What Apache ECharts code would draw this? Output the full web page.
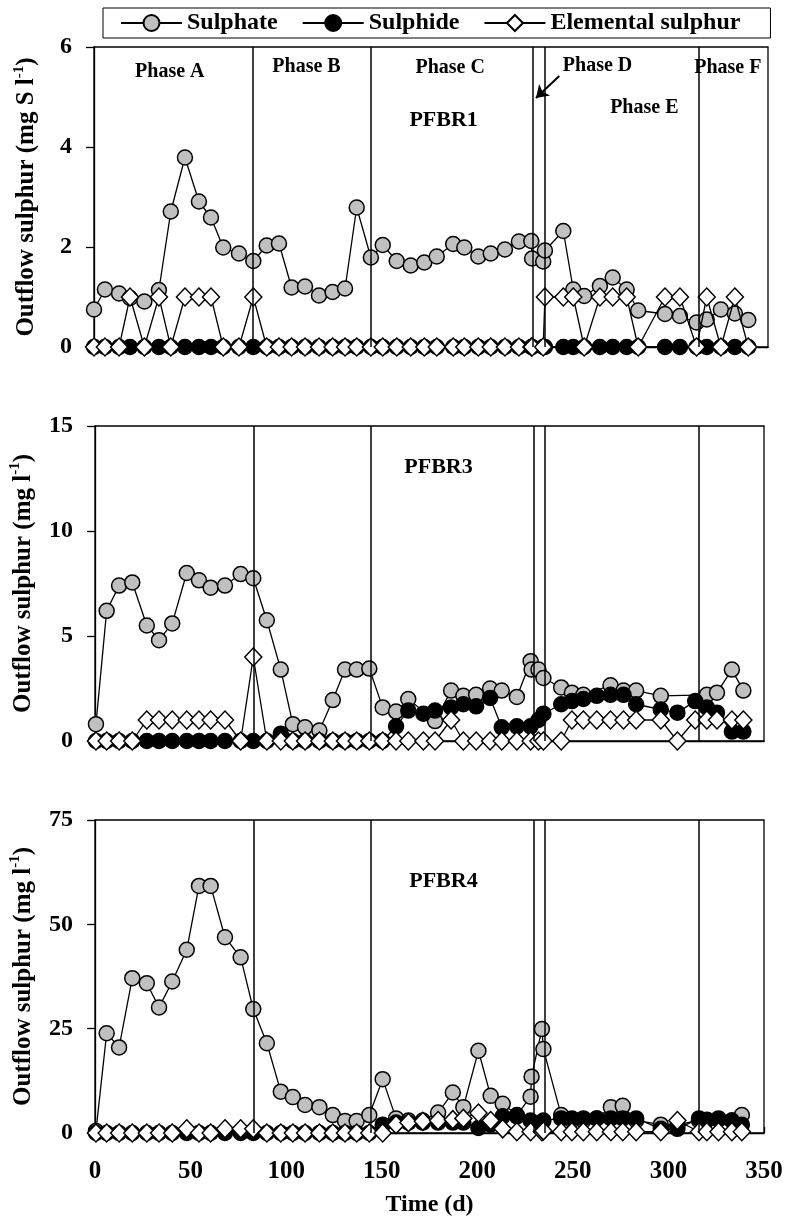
<!DOCTYPE html>
<html><head><meta charset="utf-8">
<script src="https://cdn.jsdelivr.net/npm/echarts/dist/echarts.min.js"></script>
<style>html,body{margin:0;padding:0;background:#fff}#c{width:787px;height:1220px}</style>
</head><body><div id="c"></div>
<script>
// ---------- DATA ----------
const seriesNames = ['Sulphate', 'Sulphide', 'Elemental sulphur'];
const phaseDays = [83, 144.5, 229.3, 235.5, 316];

// PFBR1
const days1 = [0,5.7,13.1,18.8,26.3,33.9,40.1,47.5,54.8,61.1, 67.5,75.7,83.2,90.2,96.6,103.2,110.2,117.5,124.6,131.1, 137.2,144.6,150.8,158.1,165.4,172.5,179,187.6,193.4,200.7, 207.2,214.6,221.9,228.4,228.8,234.6,235.5,245.1,250.3,256, 264.2,270.9,278.2,284.2,298.2,306,314.7,320,327.4,334.7, 341.7];
const sulphate1 = [0.75,1.15,1.07,0.98,0.91,1.14,2.71,3.79,2.91,2.59, 1.99,1.87,1.72,2.03,2.07,1.19,1.21,1.03,1.10,1.17, 2.79,1.79,2.04,1.72,1.63,1.69,1.81,2.06,1.99,1.81, 1.87,1.95,2.11,2.12,1.77,1.71,1.93,2.32,1.15,1.02, 1.22,1.39,1.15,0.73,0.66,0.62,0.49,0.55,0.75,0.67, 0.54];
const sulphide1 = [0,0,0,0,0,0,0,0,0,0, 0,0,0,0,0,0,0,0,0,0, 0,0,0,0,0,0,0,0,0,0, 0,0,0,0,0,0,0,0,0,0, 0,0,0,0,0,0,0,0,0,0, 0];
const elemental1 = [0,0,0,1,0,1,0,1,1,1, 0,0,1,0,0,0,0,0,0,0, 0,0,0,0,0,0,0,0,0,0, 0,0,0,0,0,0,1,1,1,0, 1,1,1,0,1,1,0,1,0,1, 0];

// PFBR3
const days2 = [0.5,6.1,12.6,19.5,27.1,33.5,40.4,48,54.4,60.5, 68,76.2,82.8,89.9,97.2,103.5,109.9,117.4,124.4,130.8, 136.9,143.5,150.5,157.5,163.9,171.8,177.9,186.3,192.7,199.4, 206.7,212.8,220.7,227.9,228.4,232,234.6,243.9,249.5,255.5, 262.5,269.7,276.5,283.1,296,304.7,314,320.1,325.4,333.2, 339.2];
const sulphate2 = [0.8,6.2,7.4,7.55,5.5,4.8,5.6,8.0,7.65,7.3, 7.4,7.95,7.75,5.75,3.4,0.8,0.65,0.5,1.95,3.4, 3.4,3.45,1.6,1.4,2.0,null,0.95,2.4,2.15,2.2, 2.5,2.4,2.1,3.8,3.4,3.4,3.0,2.55,2.3,2.2, null,2.65,2.4,2.4,2.15,null,null,2.2,2.3,3.4, 2.4];
const sulphide2 = [0,0,0,0,0,0,0,0,0,0, 0,0,0,0,0.35,0,0,0,0,0, 0,0,0,0.7,1.45,1.3,1.45,1.6,1.75,1.65, 2.05,0.65,0.7,0.7,null,1.0,1.3,1.75,1.9,2.0, 2.15,2.2,2.2,1.75,1.5,1.35,1.9,1.6,1.35,0.45, 0.45];
const elemental2 = [0,0,0,0,1,1,1,1,1,1, 1,0,4,0,0,0,0,0,0,0, 0,0,0,0,0,0,0,1,0,0, 0,0,0,0,null,0,0,0,1,1, 1,1,1,1,1,0,1,1,1,1, 1];

// PFBR4
const days3 = [0.5,6.1,12.6,19.5,27.1,33.5,40.4,48,54.4,60.5, 68,76.2,82.8,89.9,97.2,103.5,109.9,117.4,124.4,130.8, 136.9,143.5,150.5,157.5,164,171.5,179.5,187.2,192.7,200.6, 207,213.3,220.7,227.9,228.4,233.8,234.6,243.9,249.5,255.5, 262.5,269.9,276.1,283.1,296,304.7,316,320.1,326.2,333.2, 338.4];
const sulphate3 = [0.5,23.9,20.5,37.1,35.9,30.1,36.3,43.9,59.2,59.2, 46.9,42.1,29.7,21.5,9.9,8.6,6.7,6.2,4.3,2.9, 2.9,4.3,12.9,3.5,3.0,3.0,4.9,9.7,6.2,19.7, 8.9,7.0,4.3,8.7,13.5,24.9,20.1,4.3,3.0,3.0, 3.5,6.2,6.5,3.0,2.0,2.0,3.0,3.0,3.5,3.0, 4.3];
const sulphide3 = [0,0,0,0,0,0,0,0,0,0, 0,0,0,0,0,0,0,0,0,0, 0,0,2.0,2.5,2.5,2.5,2.5,2.5,2.5,1.2, 2.0,4.0,4.0,3.0,null,2.5,3.0,3.5,3.5,3.5, 3.5,3.5,3.5,3.5,1.0,1.0,3.5,3.2,3.2,3.0, 2.0];
const elemental3 = [0,0,0,0,0,0,0,1,0,0, 1,1,1,0,0,0,0,0,0,0, 0,0,0,2.0,2.5,2.8,3.0,3.2,3.5,4.8, 3.0,1.0,0.3,0.3,null,0.3,0.5,0.3,0.3,0.3, 0.3,0.3,0.3,0.3,0.3,3.0,0.3,0.3,0.3,0.3, 0.3];

// axis ranges [min, max, interval]
const yRange1 = [0, 6, 2];
const yRange2 = [0, 15, 5];
const yRange3 = [0, 75, 25];
const xRange = [0, 350, 50];
const xMax1 = 352;

// annotations [text, day, value]
const labels1 = [['Phase A',39.6,5.5],['Phase B',111,5.6],['Phase C',186,5.58],['Phase D',263,5.62],['Phase E',287.4,4.78],['Phase F',331,5.58],['PFBR1',182.6,4.54]];
const labels2 = [['PFBR3',179.7,13.05]];
const labels3 = [['PFBR4',182.3,60.2]];
const arrow1 = [[243,5.42],[230.8,4.98]];

const yName1 = 'Outflow sulphur (mg S l{sup|-1})';
const yName2 = 'Outflow sulphur (mg l{sup|-1})';
const xName = 'Time (d)';

// ---------- CHART ----------
const FONT = '"Liberation Serif","Times New Roman",serif';
const panels = [
  {days: days1, s: sulphate1, h: sulphide1, e: elemental1, y: yRange1, name: yName1, labels: labels1, xmax: xMax1, arrow: arrow1},
  {days: days2, s: sulphate2, h: sulphide2, e: elemental2, y: yRange2, name: yName2, labels: labels2, xmax: xRange[1]},
  {days: days3, s: sulphate3, h: sulphide3, e: elemental3, y: yRange3, name: yName2, labels: labels3, xmax: xRange[1]}
];
const gridBoxes = [
  {left: 94, top: 47, width: 674, height: 300},
  {left: 95, top: 426, width: 669, height: 315},
  {left: 95, top: 820, width: 669, height: 313}
];
const pairs = (d, v) => d.map((x, i) => [x, v[i]]).filter(p => p[1] !== null && p[1] !== undefined);

const grid = [], xAxis = [], yAxis = [], series = [];
panels.forEach((p, i) => {
  grid.push(Object.assign({show: true, borderColor: '#000', borderWidth: 1.3, backgroundColor: 'transparent'}, gridBoxes[i]));
  const last = i === panels.length - 1;
  xAxis.push({
    type: 'value', gridIndex: i, min: xRange[0], max: p.xmax, interval: xRange[2],
    axisLine: {show: true, lineStyle: {color: '#000', width: 1.3}},
    axisTick: {show: last, inside: true, length: 6, lineStyle: {color: '#000', width: 1.3}},
    axisLabel: {show: last, fontFamily: FONT, fontWeight: 'bold', fontSize: 25, color: '#000', margin: 26},
    splitLine: {show: false},
    name: last ? xName : '', nameLocation: 'middle', nameGap: 60,
    nameTextStyle: {fontFamily: FONT, fontWeight: 'bold', fontSize: 24, color: '#000'}
  });
  yAxis.push({
    type: 'value', gridIndex: i, min: p.y[0], max: p.y[1], interval: p.y[2],
    axisLine: {show: true, lineStyle: {color: '#000', width: 1.3}},
    axisTick: {show: true, inside: false, length: 8, lineStyle: {color: '#000', width: 1.3}},
    axisLabel: {fontFamily: FONT, fontWeight: 'bold', fontSize: 24, color: '#000', margin: 22},
    splitLine: {show: false},
    name: p.name, nameLocation: 'middle', nameGap: 52,
    nameTextStyle: {fontFamily: FONT, fontWeight: 'bold', fontSize: 25, color: '#000', lineHeight: 30,
      rich: {sup: {fontFamily: FONT, fontWeight: 'bold', fontSize: 15, lineHeight: 14, verticalAlign: 'top', color: '#000'}}}
  });
  const common = {type: 'line', xAxisIndex: i, yAxisIndex: i, animation: false, clip: false,
    lineStyle: {color: '#000', width: 1.3}, emphasis: {disabled: true}, silent: true};
  const mlData = phaseDays.map(d => ({xAxis: d}));
  if (p.arrow) {
    mlData.push([{coord: p.arrow[0], symbol: 'none', lineStyle: {width: 2}}, {coord: p.arrow[1], symbol: 'arrow'}]);
  }
  series.push(Object.assign({}, common, {
    name: seriesNames[0], data: pairs(p.days, p.s), symbol: 'circle', symbolSize: 15, z: 2,
    itemStyle: {color: '#c0c0c0', borderColor: '#000', borderWidth: 1.5},
    markLine: {silent: true, symbol: ['none', 'none'], symbolSize: 12, animation: false,
      lineStyle: {color: '#000', width: 1.5, type: 'solid'}, label: {show: false}, data: mlData},
    markPoint: {silent: true, animation: false, symbol: 'circle', symbolSize: 1, itemStyle: {color: 'rgba(0,0,0,0)'},
      label: {show: true, position: 'inside', formatter: '{b}', fontFamily: FONT, fontWeight: 'bold', color: '#000'},
      data: p.labels.map(l => ({name: l[0], coord: [l[1], l[2]], label: {fontSize: l[0].indexOf('PFBR') === 0 ? 22 : 20}}))}
  }));
  series.push(Object.assign({}, common, {
    name: seriesNames[1], data: pairs(p.days, p.h), symbol: 'circle', symbolSize: 15, z: 3,
    itemStyle: {color: '#000', borderColor: '#000', borderWidth: 1.5}
  }));
  series.push(Object.assign({}, common, {
    name: seriesNames[2], data: pairs(p.days, p.e), symbol: 'diamond', symbolSize: [17, 18], z: 4,
    itemStyle: {color: '#fff', borderColor: '#000', borderWidth: 1.5}
  }));
});

const chart = echarts.init(document.getElementById('c'), null, {renderer: 'canvas'});
chart.setOption({
  backgroundColor: '#fff',
  animation: false,
  legend: {
    data: seriesNames, left: 103, top: 8, itemWidth: 61, itemHeight: 20, itemGap: 24,
    padding: [3, 30, 3, 17], borderColor: '#000', borderWidth: 1, selectedMode: false,
    textStyle: {fontFamily: FONT, fontWeight: 'bold', fontSize: 24, color: '#000', padding: [0, 0, 0, 0]}
  },
  grid, xAxis, yAxis, series
});
</script></body></html>
